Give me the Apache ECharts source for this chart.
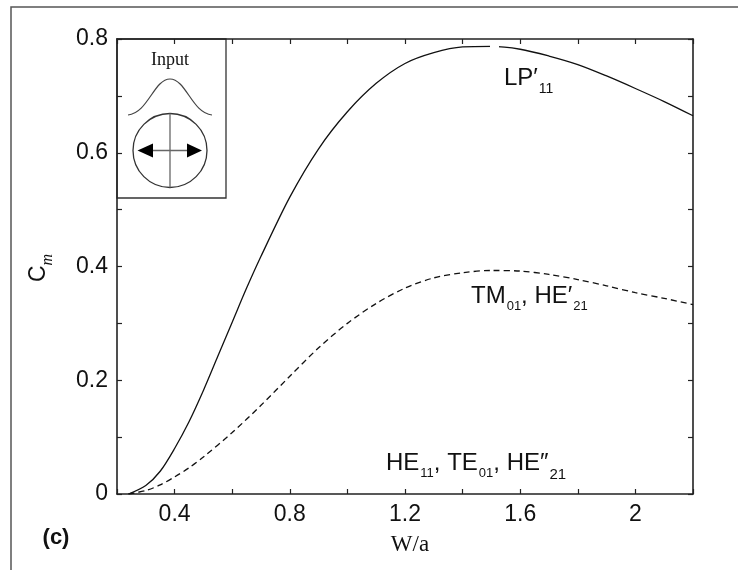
<!DOCTYPE html>
<html>
<head>
<meta charset="utf-8">
<script src="https://cdn.jsdelivr.net/npm/echarts@6.0.0/dist/echarts.min.js"></script>
<style>
  html, body { margin: 0; padding: 0; background: #fff; }
  #chart { width: 738px; height: 570px; }
</style>
</head>
<body>
<div id="chart"></div>
<script>
// coupling C_m against W/a
const lpX = [0.24, 0.3, 0.35, 0.4, 0.45, 0.5, 0.55, 0.6, 0.65, 0.7, 0.8, 0.9, 1.0, 1.1, 1.2, 1.3, 1.4, 1.5, 1.6, 1.7, 1.8, 1.9, 2.0, 2.1, 2.2]
const lpY = [0, 0.015, 0.04, 0.08, 0.127, 0.182, 0.242, 0.302, 0.362, 0.418, 0.522, 0.607, 0.672, 0.722, 0.757, 0.776, 0.786, 0.787, 0.782, 0.77, 0.755, 0.735, 0.713, 0.69, 0.665]
const tmX = [0.24, 0.3, 0.35, 0.4, 0.45, 0.5, 0.6, 0.7, 0.8, 0.9, 1.0, 1.1, 1.2, 1.3, 1.4, 1.5, 1.6, 1.7, 1.8, 1.9, 2.0, 2.1, 2.2]
const tmY = [0, 0.006, 0.016, 0.03, 0.046, 0.065, 0.108, 0.156, 0.207, 0.257, 0.3, 0.335, 0.362, 0.38, 0.389, 0.393, 0.392, 0.386, 0.377, 0.366, 0.354, 0.344, 0.333]

const xTickLabels = [0.4, 0.8, 1.2, 1.6, 2]
const yTickLabels = [0, 0.2, 0.4, 0.6, 0.8]

const sans = '"Liberation Sans", Arial, Helvetica, sans-serif'
const serif = '"Liberation Serif", "Times New Roman", serif'
const ink = '#111'

function pickLabel(list) {
  return v => {
    const r = Math.round(v * 10) / 10
    return list.some(t => Math.abs(t - r) < 1e-6) ? String(r) : ''
  }
}

function makeAxis(pos, min, max, step, labels) {
  return {
    type: 'value',
    position: pos,
    min: min,
    max: max,
    interval: step,
    axisLine: {show: true, onZero: false, lineStyle: {color: '#222', width: 1.6}},
    axisTick: {show: true, inside: true, length: 5, lineStyle: {color: '#222', width: 1.2}},
    axisLabel: labels ? {
      show: true, margin: 9, fontSize: 23, color: ink, fontFamily: sans,
      formatter: pickLabel(labels)
    } : {show: false},
    splitLine: {show: false}
  }
}

const sub = (size, pad) => ({fontSize: size, fontFamily: sans, lineHeight: size, padding: [pad, 0, 0, 1], verticalAlign: 'top', fill: ink})
const main = {fontSize: 24, fontFamily: sans, lineHeight: 26, verticalAlign: 'top', fill: ink}

const chart = echarts.init(document.getElementById('chart'))

chart.setOption({
  animation: false,
  backgroundColor: '#fff',
  grid: {left: 117, right: 45, top: 39, bottom: 76},
  xAxis: [
    makeAxis('bottom', 0.2, 2.2, 0.2, xTickLabels),
    makeAxis('top', 0.2, 2.2, 0.2, null)
  ],
  yAxis: [
    makeAxis('left', 0, 0.8, 0.1, yTickLabels),
    makeAxis('right', 0, 0.8, 0.1, null)
  ],
  series: [
    {
      name: "LP'11",
      type: 'line',
      data: lpX.map((x, i) => [x, lpY[i]]),
      smooth: 0.3,
      symbol: 'none',
      lineStyle: {color: ink, width: 1.3}
    },
    {
      name: 'TM01',
      type: 'line',
      data: tmX.map((x, i) => [x, tmY[i]]),
      smooth: 0.3,
      symbol: 'none',
      lineStyle: {color: ink, width: 1.3, type: [6, 4]}
    }
  ],
  graphic: [
    // border of the larger figure this panel was cut from
    {type: 'polyline', shape: {points: [[11, 570], [11, 7], [738, 7]]}, style: {stroke: '#555', lineWidth: 1.5, fill: null}},
    // small break in the solid curve near its peak, as in the original print
    {type: 'rect', z: 5, shape: {x: 490, y: 42, width: 9, height: 10}, style: {fill: '#fff'}},
    // inset: input field sketch
    {
      type: 'group', z: 10, children: [
        {type: 'rect', shape: {x: 117, y: 39, width: 109, height: 159}, style: {fill: '#fff', stroke: '#333', lineWidth: 1.3}},
        {type: 'text', x: 170, y: 60, style: {text: 'Input', font: '18px ' + serif, fill: ink, align: 'center', verticalAlign: 'middle'}},
        {type: 'bezierCurve', shape: {x1: 128, y1: 115, cpx1: 148, cpy1: 113, cpx2: 154, cpy2: 79, x2: 170, y2: 79}, style: {stroke: '#444', lineWidth: 1.2, fill: null}},
        {type: 'bezierCurve', shape: {x1: 170, y1: 79, cpx1: 186, cpy1: 79, cpx2: 192, cpy2: 113, x2: 212, y2: 115}, style: {stroke: '#444', lineWidth: 1.2, fill: null}},
        {type: 'circle', shape: {cx: 170, cy: 150.5, r: 37}, style: {stroke: '#333', lineWidth: 1.3, fill: null}},
        {type: 'line', shape: {x1: 170, y1: 113.5, x2: 170, y2: 187.5}, style: {stroke: '#666', lineWidth: 1.3}},
        {type: 'line', shape: {x1: 150, y1: 150.5, x2: 190, y2: 150.5}, style: {stroke: '#666', lineWidth: 1.3}},
        {type: 'polygon', shape: {points: [[137.5, 150.5], [153, 143.5], [153, 157.5]]}, style: {fill: '#000'}},
        {type: 'polygon', shape: {points: [[202, 150.5], [187, 143.5], [187, 157.5]]}, style: {fill: '#000'}}
      ]
    },
    // mode labels
    {
      type: 'text', x: 504, y: 66,
      style: {text: '{a|LP′}{s|11}', rich: {a: main, s: sub(14, 16)}}
    },
    {
      type: 'text', x: 471, y: 284,
      style: {text: '{a|TM}{s|01}{a|, HE′}{s|21}', rich: {a: main, s: sub(13, 16)}}
    },
    {
      type: 'text', x: 386, y: 451,
      style: {text: '{a|HE}{s|11}{a|, TE}{s|01}{a|, HE″}{t|21}', rich: {a: main, s: sub(13, 16), t: sub(15, 16)}}
    },
    // axis names
    {
      type: 'text', x: 40, y: 268, rotation: Math.PI / 2,
      style: {
        text: '{c|C}{m|m}',
        rich: {
          c: {fontSize: 23, fontFamily: sans, lineHeight: 25, verticalAlign: 'top', fill: ink},
          m: {fontSize: 16, fontFamily: serif, fontStyle: 'italic', lineHeight: 16, padding: [12, 0, 0, 0], verticalAlign: 'top', fill: ink}
        },
        align: 'center', verticalAlign: 'middle'
      }
    },
    {type: 'text', x: 410, y: 545, style: {text: 'W/a', font: '23px ' + serif, fill: ink, align: 'center', verticalAlign: 'middle'}},
    {type: 'text', x: 56, y: 538, style: {text: '(c)', font: 'bold 22px ' + sans, fill: ink, align: 'center', verticalAlign: 'middle'}}
  ]
})
</script>
</body>
</html>
